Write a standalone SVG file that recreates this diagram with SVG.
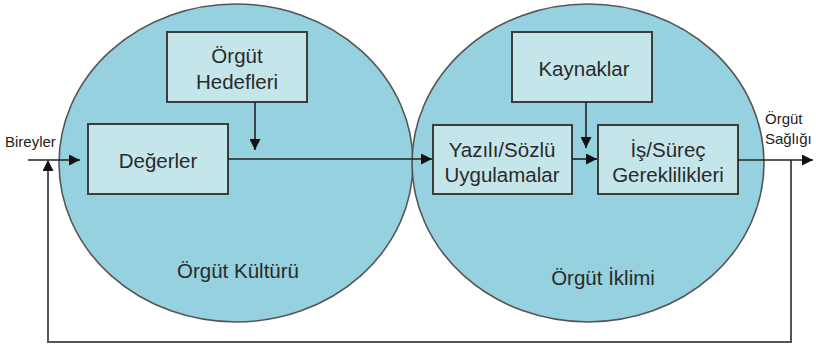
<svg xmlns="http://www.w3.org/2000/svg" width="816" height="350" viewBox="0 0 816 350">
<defs>
<marker id="ah" markerUnits="userSpaceOnUse" markerWidth="11" markerHeight="11" refX="10" refY="5" orient="auto" viewBox="0 0 10 10">
<path d="M0,0 L10,5 L0,10 z" fill="#111"/>
</marker>
</defs>
<style>
.circ{fill:#95d1df;stroke:#555;stroke-width:1.6}
.box{fill:#c4e6ea;stroke:#3c3c3c;stroke-width:2}
.t{font-family:"Liberation Sans",Arial,sans-serif;font-size:20.5px;fill:#2a2a2a;text-anchor:middle}
.s{font-family:"Liberation Sans",Arial,sans-serif;font-size:15px;fill:#222}
.ln{fill:none;stroke:#222;stroke-width:1.6}
.fb{fill:none;stroke:#555;stroke-width:2}
</style>
<rect width="816" height="350" fill="#fff"/>
<g id="kultur">
<ellipse class="circ" cx="236" cy="163" rx="177" ry="159"/>
<text class="t" x="238" y="278">Örgüt Kültürü</text>
</g>
<g id="iklim">
<ellipse class="circ" cx="588" cy="163" rx="176" ry="159"/>
<text class="t" x="603" y="285">Örgüt İklimi</text>
</g>
<g id="hedefler">
<rect class="box" x="167" y="32" width="140" height="70"/>
<text class="t" x="237" y="63">Örgüt</text>
<text class="t" x="237" y="89">Hedefleri</text>
</g>
<g id="degerler">
<rect class="box" x="88" y="124" width="140" height="70"/>
<text class="t" x="158" y="168">Değerler</text>
</g>
<g id="kaynaklar">
<rect class="box" x="512" y="32" width="140" height="70"/>
<text class="t" x="584" y="76">Kaynaklar</text>
</g>
<g id="yazili">
<rect class="box" x="433" y="125" width="139" height="69"/>
<text class="t" x="502" y="157">Yazılı/Sözlü</text>
<text class="t" x="502" y="182">Uygulamalar</text>
</g>
<g id="surec">
<rect class="box" x="598" y="125" width="140" height="69"/>
<text class="t" x="668" y="157">İş/Süreç</text>
<text class="t" x="668" y="182">Gereklilikleri</text>
</g>
<g id="bireyler">
<text class="s" x="5" y="147" font-size="16">Bireyler</text>
</g>
<g id="saglik">
<text class="s" x="765" y="124">Örgüt</text>
<text class="s" x="765" y="144">Sağlığı</text>
</g>
<g id="connectors">
<line class="ln" x1="28" y1="160" x2="80" y2="160" marker-end="url(#ah)"/>
<polyline class="fb" points="791,160 791,342 48,342 48,160" marker-end="url(#ah)"/>
<line class="ln" x1="255" y1="102" x2="255" y2="150" marker-end="url(#ah)"/>
<line class="ln" x1="228" y1="159" x2="432" y2="159" marker-end="url(#ah)"/>
<line class="ln" x1="586" y1="102" x2="586" y2="148" marker-end="url(#ah)"/>
<line class="ln" x1="572" y1="159" x2="597" y2="159" marker-end="url(#ah)"/>
<line class="ln" x1="738" y1="160" x2="813" y2="160" marker-end="url(#ah)"/>
</g>
</svg>
